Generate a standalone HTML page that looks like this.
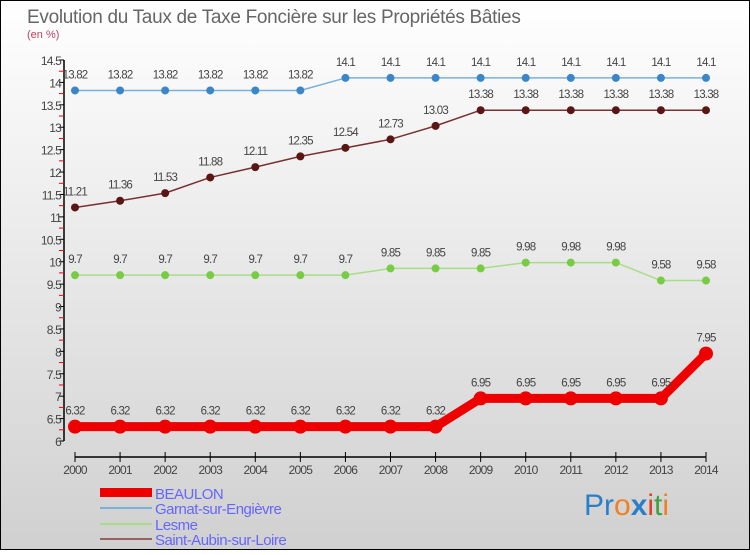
<!DOCTYPE html>
<html><head><meta charset="utf-8"><style>
body{margin:0}
#c{width:750px;height:550px;position:relative;font-family:"Liberation Sans",sans-serif;}
svg text{font-family:"Liberation Sans",sans-serif}
</style></head><body>
<div id="c">
<svg id="s" width="750" height="550" xmlns="http://www.w3.org/2000/svg">
<defs><linearGradient id="bg" x1="0" y1="0" x2="0" y2="1"><stop offset="0" stop-color="#ffffff"/><stop offset="1" stop-color="#d0d0d0"/></linearGradient></defs>
<rect x="0.5" y="0.5" width="749" height="549" fill="url(#bg)" stroke="#000"/>
<text x="27" y="23" font-size="19" fill="#666" letter-spacing="-0.3">Evolution du Taux de Taxe Foncière sur les Propriétés Bâties</text>
<text x="27" y="38" font-size="11" fill="#c04060">(en %)</text>
<g id="axes"></g><g id="series"></g>
<g>
<rect x="100" y="488" width="52" height="9" fill="#e00"/>
<text x="155" y="499" font-size="15" fill="#66f" letter-spacing="-0.5">BEAULON</text>
<rect x="100" y="507" width="52" height="2" fill="#7ab0dc"/>
<text x="155" y="514" font-size="15" fill="#66f" letter-spacing="-0.5">Garnat-sur-Engièvre</text>
<rect x="100" y="523" width="52" height="2" fill="#a8dd88"/>
<text x="155" y="530" font-size="15" fill="#66f" letter-spacing="-0.5">Lesme</text>
<rect x="100" y="538" width="52" height="2" fill="#9a6060"/>
<text x="155" y="545" font-size="15" fill="#66f" letter-spacing="-0.5">Saint-Aubin-sur-Loire</text>
</g>
<text x="584" y="515" font-size="30"><tspan fill="#2a7fc8">Pr</tspan><tspan fill="#f08020">o</tspan><tspan fill="#2a7fc8" font-weight="bold">x</tspan><tspan fill="#e04020">i</tspan><tspan fill="#40a040">t</tspan><tspan fill="#f08020">i</tspan></text>
</svg>
</div>
<script>
const years=[2000,2001,2002,2003,2004,2005,2006,2007,2008,2009,2010,2011,2012,2013,2014];
const beaulon=[6.32,6.32,6.32,6.32,6.32,6.32,6.32,6.32,6.32,6.95,6.95,6.95,6.95,6.95,7.95];
const garnat=[13.82,13.82,13.82,13.82,13.82,13.82,14.1,14.1,14.1,14.1,14.1,14.1,14.1,14.1,14.1];
const lesme=[9.7,9.7,9.7,9.7,9.7,9.7,9.7,9.85,9.85,9.85,9.98,9.98,9.98,9.58,9.58];
const saintAubin=[11.21,11.36,11.53,11.88,12.11,12.35,12.54,12.73,13.03,13.38,13.38,13.38,13.38,13.38,13.38];
const yTicks=[6,6.5,7,7.5,8,8.5,9,9.5,10,10.5,11,11.5,12,12.5,13,13.5,14,14.5];
const NS="http://www.w3.org/2000/svg";
const X=i=>75+i*(706-75)/(years.length-1);
const Y=v=>441-(v-6)*(441-60)/8.5;
function mk(t,a,p){const e=document.createElementNS(NS,t);for(const k in a)e.setAttribute(k,a[k]);p.appendChild(e);return e;}
const ax=document.getElementById('axes');
let yl=mk('line',{x1:64,y1:Y(14.5),x2:64,y2:Y(6),stroke:'#000','stroke-width':1.5},ax);


yTicks.forEach(v=>{
 mk('line',{x1:59,x2:64,y1:Y(v),y2:Y(v),stroke:'#000'},ax);
 if(v<14.5)mk('line',{x1:59,x2:64,y1:Y(v+0.25),y2:Y(v+0.25),stroke:'#e00'},ax);
 const t=mk('text',{x:61,y:Y(v)+5,'font-size':12,fill:'#444','text-anchor':'end','letter-spacing':'-0.8'},ax);
 t.textContent=String(v);
 
 
});
let xl=mk('line',{x1:X(0),y1:457,x2:X(years.length-1),y2:457,stroke:'#000','stroke-width':1.5},ax);


years.forEach((yr,i)=>{
 mk('line',{x1:X(i),x2:X(i),y1:452,y2:462,stroke:'#000'},ax);
 const t=mk('text',{x:X(i),y:474,'font-size':12,fill:'#444','text-anchor':'middle','letter-spacing':'-0.8'},ax);
 t.textContent=yr;
 
 
});
const sg=document.getElementById('series');
function series(vals,name,line,dot,lw,r){
 const g=mk('g',{},sg);
 
 
 const pl=mk('polyline',{points:vals.map((v,i)=>X(i)+','+Y(v)).join(' '),fill:'none',stroke:line,'stroke-width':lw,'stroke-linejoin':'round'},g);
 
 
 vals.forEach((v,i)=>{
  const c=mk('circle',{cx:X(i),cy:Y(v),r:r,fill:dot},g);
  
  
  const t=mk('text',{x:X(i),y:Y(v)-12,'font-size':11.5,fill:'#444','text-anchor':'middle','letter-spacing':'-0.8'},g);
  t.textContent=String(v);
  
  
 });
}
series(garnat,'garnat','#7ab0dc','#3a87c8',1.5,4);
series(saintAubin,'saint-aubin','#7a3030','#5a1515',1.5,4);
series(lesme,'lesme','#a8dd88','#77cc44',1.5,4);
series(beaulon,'beaulon','#ee0000','#ee0000',9,7);
</script>
</body></html>
